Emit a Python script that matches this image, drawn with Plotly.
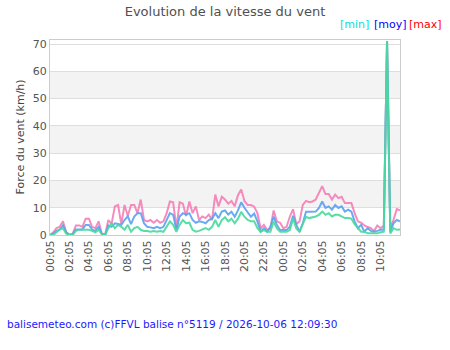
import pandas as pd
import plotly.graph_objects as go

# Time axis: samples every 20 minutes from 00:05 (day 1) to 12:05 (day 2)
times = pd.date_range("2026-10-05 00:05", "2026-10-06 12:05", freq="20min")

vent_max = [0, 1, 2.5, 3, 5, 1, 0, 0.5, 3.5, 3.5, 3, 6, 6, 3, 2.5, 5, 0.5, 0,
            5.5, 4, 10.5, 11, 4, 11, 7, 11, 11, 8, 13, 5.5, 5, 5.5, 4.5, 5.5,
            4.5, 5, 8, 12.3, 12, 2.5, 12, 11.5, 7, 12.3, 8, 10.5, 5.5, 6.8,
            6.2, 7.5, 5.5, 14.8, 10.5, 14, 13, 11.5, 12.5, 10.5, 14.6, 16.7,
            12.5, 11, 11, 10.4, 8, 2.4, 3.7, 1.8, 2.4, 9, 5, 4.5, 2.5, 3, 6.7,
            9.5, 4, 5, 11, 12.5, 12, 12.3, 13, 15.5, 17.9, 15, 15, 13, 14.8,
            13.5, 14, 11.7, 11.7, 11.7, 8, 5, 4.5, 3.5, 3, 2.5, 1.5, 3.5, 2.5,
            3.5, 71, 2.5, 5.5, 9.5, 9]

vent_moy = [0, 0.5, 1.5, 2, 3.5, 1, 0, 0.3, 2, 2, 2, 3.7, 3.7, 2, 1.5, 3, 0.5,
            0, 3.5, 3, 4.3, 4, 3.7, 5.5, 6.8, 4, 6.8, 8, 8, 4.3, 3, 2.8, 2.5,
            3, 2.5, 3, 5.5, 8, 7.4, 1.9, 6.8, 8, 7.5, 8, 5.5, 4.5, 5, 4.8, 4.3,
            5.5, 6, 8, 6.2, 8.6, 9, 7.5, 8.5, 6.7, 9, 12, 10, 8.5, 6.7, 7.9, 5,
            1.2, 2.4, 1.2, 3, 6.7, 3.7, 1.8, 1.8, 1.8, 3, 7, 3.7, 1.2, 4.3, 8.5,
            8.5, 8.6, 8.6, 9.9, 12.3, 9.9, 10.5, 9.3, 11, 9.9, 10.5, 8.6, 9.3,
            8.6, 5, 2.5, 3.7, 1.2, 2.5, 1.5, 1.2, 1.5, 1.9, 1.9, 71, 1.2, 4.3,
            5.5, 5]

vent_min = [0, 0, 1, 2, 2.5, 0.5, 0, 0, 1.5, 1.9, 1.9, 1.9, 1.9, 1.5, 1, 1.9,
            0.3, 0, 2.5, 4.3, 2.5, 3.7, 3, 1.9, 3.7, 1.2, 2.5, 3, 1.9, 1.5,
            1.5, 1.2, 1.5, 1.2, 1.5, 1.2, 3, 5, 3.7, 1.2, 3.7, 5.5, 4.3, 4.5,
            1.9, 1.2, 1.5, 1.9, 2.5, 1.9, 3, 5.5, 3, 5.5, 6.5, 5, 6, 4.3, 6,
            8.5, 6.7, 5.5, 5, 5, 2.5, 1.2, 1.8, 1.2, 1.2, 4.9, 2.4, 1.2, 1.2,
            1.2, 1.8, 6, 2.4, 1.2, 4, 6.7, 6.2, 6.5, 6.8, 7.4, 8.6, 7.4, 8, 6.8,
            7.4, 7.4, 6.8, 6.2, 6.2, 6, 4, 2.5, 1.2, 1.2, 0.6, 0.6, 0.6, 0.6, 1,
            1.2, 71, 0.6, 2.5, 1.9, 2]

tick_times = pd.date_range("2026-10-05 00:05", "2026-10-06 10:05", freq="2h")
tick_labels = [t.strftime("%H:%M") for t in tick_times]
y_ticks = [0, 10, 20, 30, 40, 50, 60, 70]

font = "DejaVu Sans"
fig = go.Figure()
fig.add_trace(go.Scatter(x=times, y=vent_max, mode="lines", name="max",
                         line=dict(color="rgba(242,120,178,0.85)", width=2)))
fig.add_trace(go.Scatter(x=times, y=vent_moy, mode="lines", name="moy",
                         line=dict(color="rgba(90,160,242,0.9)", width=2)))
fig.add_trace(go.Scatter(x=times, y=vent_min, mode="lines", name="min",
                         line=dict(color="rgba(70,218,155,0.9)", width=2)))

# alternate grid bands
for lo in (10, 30, 50):
    fig.add_shape(type="rect", xref="paper", yref="y", x0=0, x1=1, y0=lo, y1=lo + 10,
                  fillcolor="#f3f3f3", line_width=0, layer="below")

fig.update_layout(
    width=450, height=350,
    margin=dict(l=50, r=50, t=40, b=115),
    paper_bgcolor="white", plot_bgcolor="white",
    showlegend=False,
    font=dict(family=font, size=11, color="#555"),
    title=dict(text="Evolution de la vitesse du vent", x=0.5, xanchor="center",
               y=1 - 11 / 350, yanchor="middle",
               font=dict(family=font, size=13, color="#505050")),
)
fig.update_xaxes(
    range=[times[0], times[-1]],
    tickvals=list(tick_times), ticktext=tick_labels, tickangle=-90,
    showgrid=False, showline=True, linecolor="#ccc", mirror=True,
    ticks="", tickfont=dict(family=font, size=11, color="#555"),
)
fig.update_yaxes(
    range=[0, 71.5], tickvals=y_ticks,
    showgrid=True, gridcolor="#dedede", zeroline=False,
    showline=True, linecolor="#ccc", mirror=True,
    tickfont=dict(family=font, size=11, color="#555"),
)

fig.add_annotation(text="Force du vent (km/h)", xref="paper", yref="paper",
                   x=(20 - 50) / 350, y=0.5, textangle=-90, showarrow=False,
                   xanchor="center", yanchor="middle",
                   font=dict(family=font, size=11, color="#444"))

for txt, col, xc in (("[min]", "#00e0e0", 354), ("[moy]", "#0000ff", 390), ("[max]", "#ff0000", 425)):
    fig.add_annotation(text=txt, xref="paper", yref="paper",
                       x=(xc - 50) / 350, y=(235 - 24) / 195,
                       showarrow=False, xanchor="center", yanchor="middle",
                       font=dict(family=font, size=11, color=col))

fig.add_annotation(text="balisemeteo.com (c)FFVL balise n°5119 / 2026-10-06 12:09:30",
                   xref="paper", yref="paper", x=(5 - 50) / 350, y=(235 - 324) / 195,
                   showarrow=False, xanchor="left", yanchor="middle",
                   font=dict(family=font, size=10.5, color="#1a1aff"))

fig.write_html("out.html")
